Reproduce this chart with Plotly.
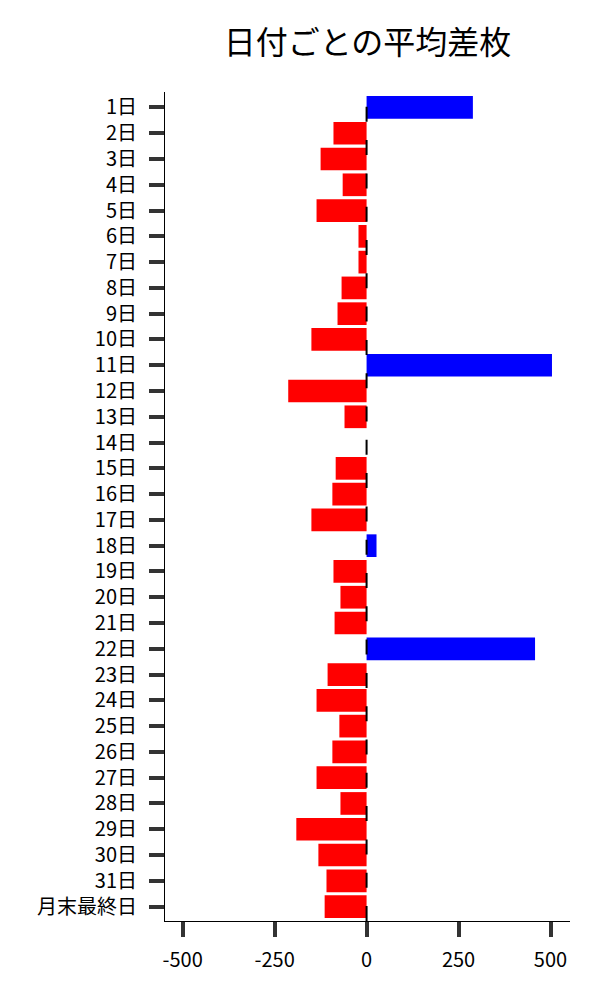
import plotly.graph_objects as go

categories = [f"{d}日" for d in range(1, 32)] + ["月末最終日"]
values = [289, -90, -125, -65, -136, -22, -22, -68, -79, -150,
          504, -213, -60, 0, -84, -93, -150, 27, -90, -71,
          -87, 458, -106, -136, -74, -93, -136, -71, -191, -131,
          -109, -114]
pos_color = "#0000ff"
neg_color = "#ff0000"
x_ticks = [-500, -250, 0, 250, 500]

colors = [pos_color if v > 0 else neg_color for v in values]

fig = go.Figure()
fig.add_trace(go.Bar(
    x=values, y=categories, orientation="h",
    marker=dict(color=colors, line=dict(width=0)),
    hoverinfo="x+y",
))

fig.add_shape(type="line", xref="x", yref="paper", x0=0, x1=0, y0=0, y1=1,
              line=dict(color="black", width=2, dash="15px,18.3px"), layer="above")

font_family = "Noto Sans CJK JP"
fig.update_layout(
    width=600, height=1000,
    margin=dict(l=157, r=38, t=84, b=87),
    paper_bgcolor="white", plot_bgcolor="white",
    font=dict(family=font_family, size=20, color="black"),
    title=dict(text="日付ごとの平均差枚", x=0.5, xref="paper", xanchor="center",
               y=1 - 35 / 1000, yanchor="middle", yref="container",
               font=dict(size=32, family=font_family, color="black")),
    bargap=0.12,
    showlegend=False,
)
fig.update_xaxes(
    range=[-548, 553], tickvals=x_ticks, ticktext=[str(t) for t in x_ticks],
    showgrid=False, zeroline=False,
    showline=True, linecolor="black", linewidth=1,
    ticks="outside", ticklen=15, tickwidth=4, tickcolor="#333333",
    ticklabelstandoff=6,
)
fig.update_yaxes(
    type="category", categoryorder="array", categoryarray=categories,
    range=[31.56, -0.6],
    showgrid=False, zeroline=False,
    showline=True, linecolor="black", linewidth=1,
    ticks="outside", ticklen=15, tickwidth=4, tickcolor="#333333",
    ticklabelstandoff=8,
)

fig.write_html("out.html")
